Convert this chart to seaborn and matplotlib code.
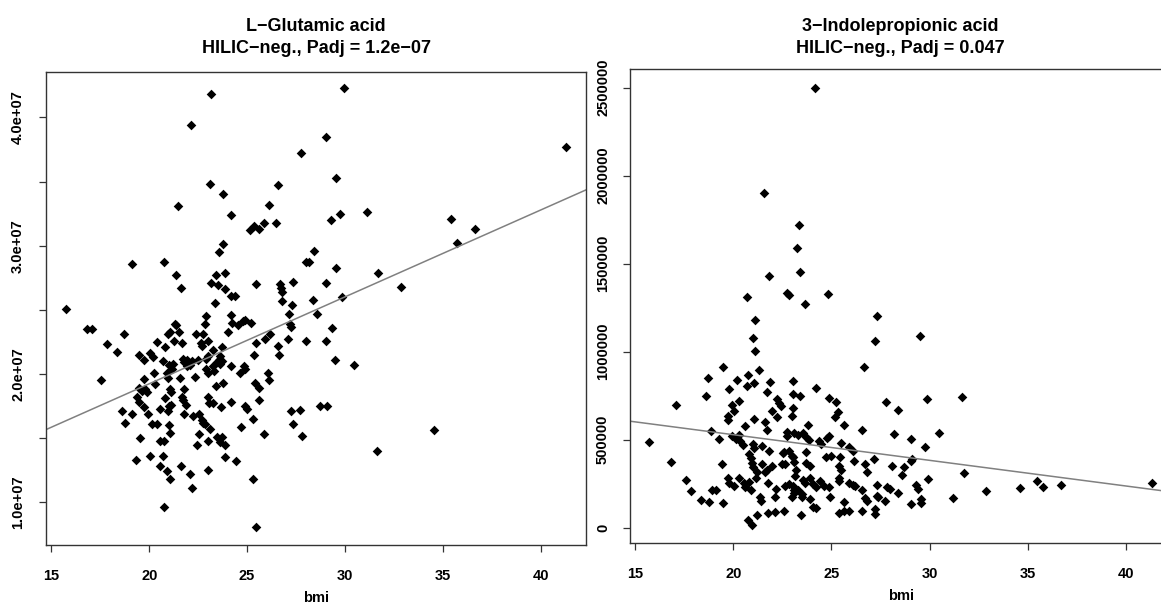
import numpy as np
import pandas as pd
import matplotlib
matplotlib.use("Agg")
import matplotlib.pyplot as plt
import seaborn as sns

sns.set_theme(style="white")
plt.rcParams['font.family'] = ['Liberation Sans', 'DejaVu Sans']
plt.rcParams['text.color'] = 'black'
plt.rcParams['xtick.color'] = 'black'
plt.rcParams['ytick.color'] = 'black'
plt.rcParams['axes.labelcolor'] = 'black'

# ---------------- Panel 1: L-Glutamic acid (values in units of 1e7) ----------------
glu_bmi = [
    23.14, 29.93, 22.14, 29.04, 41.30, 27.75, 29.53, 23.12, 26.57, 23.77, 21.46, 26.10,
    24.20, 29.75, 31.14, 29.30, 35.40, 25.14, 25.37, 25.60, 25.86, 26.50, 36.66, 35.75,
    23.77, 23.58, 28.40, 19.14, 20.75, 28.00, 28.18, 29.52, 21.35, 23.39, 23.86, 31.71,
    21.60, 23.13, 23.51, 25.44, 23.86, 26.66, 26.73, 26.78, 27.34, 29.03, 32.85, 24.17,
    24.38, 29.84, 28.36, 28.55, 29.36, 29.02, 29.51, 30.48, 28.71, 29.09, 31.64, 34.57,
    15.72, 23.36, 26.77, 27.31, 27.16, 16.80, 17.09, 18.71, 21.31, 21.35, 24.18, 24.23,
    24.52, 24.79, 24.89, 25.20, 22.88, 22.85, 24.01, 20.96, 21.08, 21.50, 22.39, 22.73,
    20.41, 21.24, 21.69, 22.64, 22.69, 23.02, 23.24, 23.70, 25.47, 25.93, 26.17, 26.56,
    27.19, 27.26, 27.11, 26.65, 25.37, 28.03, 17.85, 18.35, 19.47, 19.75, 20.05, 20.17,
    20.70, 20.79, 21.01, 21.16, 21.23, 21.74, 21.77, 21.93, 22.17, 22.10, 21.94, 22.51,
    22.90, 22.92, 22.98, 23.26, 23.29, 23.44, 23.56, 23.63, 23.73, 23.63, 24.18, 24.62,
    24.86, 24.89, 17.55, 20.22, 20.89, 20.94, 21.57, 19.75, 19.46, 19.61, 19.78, 19.87,
    20.27, 19.39, 19.46, 20.79, 21.08, 21.13, 21.77, 21.65, 21.74, 21.88, 22.35, 22.98,
    23.43, 23.79, 24.19, 25.40, 25.63, 25.61, 26.07, 26.10, 19.73, 18.60, 19.12, 19.92,
    20.55, 20.99, 20.96, 21.11, 21.76, 22.22, 22.52, 22.98, 23.03, 23.24, 23.68, 22.68,
    22.76, 22.86, 23.12, 20.16, 20.38, 18.74, 20.99, 21.08, 20.55, 20.75, 22.54, 22.98,
    22.46, 23.44, 23.72, 23.63, 23.89, 23.87, 24.43, 24.69, 24.88, 24.98, 25.32, 25.85,
    27.23, 27.69, 27.35, 27.82, 19.51, 20.05, 19.30, 20.70, 20.55, 20.89, 21.06, 21.64,
    22.08, 22.20, 23.02, 25.32, 20.75, 25.46,
]
glu_e7 = [
    4.18, 4.23, 3.94, 3.85, 3.77, 3.72, 3.53, 3.48, 3.47, 3.40, 3.31, 3.32,
    3.24, 3.25, 3.26, 3.20, 3.21, 3.12, 3.15, 3.13, 3.18, 3.18, 3.13, 3.02,
    3.01, 2.95, 2.96, 2.86, 2.87, 2.87, 2.87, 2.83, 2.77, 2.77, 2.79, 2.79,
    2.67, 2.71, 2.69, 2.70, 2.66, 2.70, 2.67, 2.64, 2.72, 2.71, 2.68, 2.61,
    2.61, 2.60, 2.58, 2.47, 2.36, 2.26, 2.11, 2.07, 1.75, 1.75, 1.40, 1.56,
    2.51, 2.55, 2.57, 2.54, 2.47, 2.35, 2.35, 2.31, 2.39, 2.38, 2.46, 2.40,
    2.38, 2.41, 2.42, 2.40, 2.45, 2.39, 2.33, 2.31, 2.33, 2.33, 2.31, 2.31,
    2.25, 2.26, 2.24, 2.24, 2.22, 2.26, 2.19, 2.21, 2.24, 2.27, 2.31, 2.22,
    2.39, 2.37, 2.27, 2.15, 2.15, 2.26, 2.23, 2.17, 2.15, 2.11, 2.16, 2.13,
    2.10, 2.21, 2.07, 2.04, 2.08, 2.12, 2.09, 2.11, 2.10, 2.07, 2.06, 2.11,
    2.12, 2.04, 2.14, 2.06, 2.02, 2.09, 2.11, 2.08, 2.10, 2.14, 2.06, 2.01,
    2.06, 2.04, 1.95, 2.01, 2.01, 1.97, 1.97, 1.96, 1.89, 1.87, 1.88, 1.86,
    1.92, 1.82, 1.78, 1.81, 1.88, 1.86, 1.88, 1.82, 1.80, 1.76, 1.98, 2.01,
    1.91, 1.93, 1.78, 1.93, 1.89, 1.80, 2.01, 1.95, 1.74, 1.71, 1.69, 1.69,
    1.73, 1.75, 1.71, 1.76, 1.69, 1.67, 1.69, 1.82, 1.77, 1.77, 1.74, 1.64,
    1.62, 1.61, 1.57, 1.61, 1.61, 1.62, 1.60, 1.54, 1.48, 1.48, 1.53, 1.48,
    1.45, 1.51, 1.51, 1.47, 1.45, 1.35, 1.32, 1.59, 1.75, 1.73, 1.65, 1.53,
    1.71, 1.72, 1.61, 1.52, 1.50, 1.36, 1.33, 1.36, 1.28, 1.24, 1.18, 1.28,
    1.22, 1.11, 1.25, 1.18, 0.96, 0.81,
]

# ---------------- Panel 2: 3-Indolepropionic acid (values in units of 1e6) ----------------
ipa_bmi = [
    24.15, 21.58, 23.36, 23.25, 23.38, 21.81, 22.74, 22.85, 24.83, 23.68, 20.71, 27.31,
    21.12, 27.22, 29.49, 21.01, 21.12, 26.67, 31.64, 29.88, 34.61, 35.45, 35.75, 36.68,
    41.33, 19.47, 18.71, 20.20, 20.75, 21.05, 20.68, 21.31, 21.85, 23.02, 24.22, 18.64,
    19.78, 21.70, 23.05, 23.41, 17.10, 20.29, 19.92, 20.05, 22.21, 22.33, 22.41, 23.04,
    21.96, 19.73, 19.76, 22.22, 23.00, 21.07, 20.58, 21.61, 21.70, 23.79, 15.72, 18.89,
    19.27, 19.95, 20.16, 20.29, 20.36, 20.48, 21.00, 21.08, 21.46, 22.72, 22.72, 23.12,
    23.29, 23.55, 23.72, 23.84, 24.35, 16.83, 19.44, 20.81, 20.93, 21.82, 22.53, 22.61,
    22.82, 22.97, 23.04, 23.70, 20.97, 21.03, 21.48, 21.60, 21.72, 21.95, 22.48, 22.66,
    23.08, 23.18, 23.14, 23.73, 23.92, 17.59, 17.84, 19.73, 19.78, 20.05, 20.32, 20.54,
    20.61, 20.80, 20.92, 21.15, 21.21, 21.76, 22.16, 22.63, 22.82, 23.04, 23.09, 23.12,
    23.28, 23.48, 23.57, 23.67, 23.92, 24.06, 24.23, 18.93, 19.10, 18.35, 18.76, 19.49,
    21.34, 21.39, 22.14, 22.97, 23.50, 23.92, 24.06, 24.23, 21.22, 21.77, 22.11, 22.58,
    23.45, 20.73, 20.97, 24.89, 25.23, 25.33, 25.19, 25.62, 27.78, 28.40, 26.57, 28.20,
    29.03, 30.49, 24.47, 24.89, 24.80, 25.48, 25.87, 26.11, 29.76, 24.70, 24.96, 25.45,
    26.13, 27.16, 29.08, 29.03, 25.37, 25.47, 26.71, 26.79, 28.08, 28.72, 31.75, 25.40,
    25.37, 24.43, 28.59, 29.93, 25.87, 26.09, 26.19, 24.60, 24.89, 26.55, 27.33, 27.33,
    27.82, 27.99, 28.40, 29.33, 29.39, 32.88, 31.20, 24.91, 26.72, 26.81, 27.35, 27.72,
    29.06, 29.54, 29.57, 25.64, 25.40, 25.64, 25.87, 26.57, 27.23, 27.23,
]
ipa_e6 = [
    2.500, 1.900, 1.720, 1.590, 1.450, 1.430, 1.335, 1.320, 1.330, 1.270, 1.310, 1.200,
    1.180, 1.060, 1.090, 1.080, 1.005, 0.913, 0.745, 0.730, 0.225, 0.265, 0.233, 0.243,
    0.252, 0.911, 0.852, 0.841, 0.867, 0.820, 0.807, 0.894, 0.830, 0.835, 0.795, 0.750,
    0.790, 0.769, 0.757, 0.750, 0.695, 0.722, 0.697, 0.665, 0.731, 0.706, 0.691, 0.678,
    0.661, 0.634, 0.614, 0.629, 0.636, 0.616, 0.578, 0.598, 0.553, 0.585, 0.487, 0.547,
    0.504, 0.521, 0.505, 0.524, 0.492, 0.470, 0.475, 0.454, 0.466, 0.545, 0.523, 0.536,
    0.526, 0.536, 0.517, 0.500, 0.490, 0.371, 0.364, 0.420, 0.394, 0.434, 0.426, 0.430,
    0.436, 0.405, 0.400, 0.430, 0.369, 0.347, 0.360, 0.318, 0.328, 0.352, 0.360, 0.364,
    0.375, 0.328, 0.294, 0.369, 0.352, 0.273, 0.210, 0.281, 0.254, 0.239, 0.284, 0.252,
    0.233, 0.262, 0.214, 0.281, 0.318, 0.252, 0.220, 0.239, 0.246, 0.239, 0.214, 0.195,
    0.214, 0.191, 0.269, 0.256, 0.281, 0.248, 0.229, 0.214, 0.212, 0.155, 0.146, 0.138,
    0.173, 0.150, 0.173, 0.173, 0.176, 0.161, 0.119, 0.110, 0.074, 0.085, 0.091, 0.095,
    0.072, 0.044, 0.013, 0.734, 0.712, 0.659, 0.627, 0.583, 0.712, 0.668, 0.555, 0.534,
    0.505, 0.536, 0.475, 0.521, 0.511, 0.479, 0.456, 0.436, 0.456, 0.400, 0.409, 0.403,
    0.379, 0.388, 0.390, 0.379, 0.352, 0.328, 0.360, 0.318, 0.350, 0.347, 0.312, 0.284,
    0.267, 0.267, 0.299, 0.275, 0.256, 0.242, 0.239, 0.235, 0.231, 0.214, 0.242, 0.182,
    0.233, 0.218, 0.195, 0.242, 0.218, 0.206, 0.168, 0.172, 0.170, 0.153, 0.176, 0.153,
    0.134, 0.163, 0.142, 0.146, 0.084, 0.096, 0.096, 0.096, 0.106, 0.078,
]

titles = ["L\u2212Glutamic acid\nHILIC\u2212neg., Padj = 1.2e\u221207",
          "3\u2212Indolepropionic acid\nHILIC\u2212neg., Padj = 0.047"]
x_ticks = [15, 20, 25, 30, 35, 40]
glu_yticks = [1.0e7, 1.5e7, 2.0e7, 2.5e7, 3.0e7, 3.5e7, 4.0e7]
glu_ylabels = ["1.0e+07", "", "2.0e+07", "", "3.0e+07", "", "4.0e+07"]
ipa_yticks = [0, 500000, 1000000, 1500000, 2000000, 2500000]
ipa_ylabels = ["0", "500000", "1000000", "1500000", "2000000", "2500000"]

df1 = pd.DataFrame({"bmi": glu_bmi, "value": np.array(glu_e7) * 1e7})
df2 = pd.DataFrame({"bmi": ipa_bmi, "value": np.array(ipa_e6) * 1e6})

fig = plt.figure(figsize=(11.61, 6.05), dpi=100)
fig.patch.set_facecolor("white")
W, H = 1161, 605
ax1 = fig.add_axes([46 / W, (H - 545) / H, 540.3 / W, 473 / H])
ax2 = fig.add_axes([629.5 / W, (H - 543) / H, 542.5 / W, 474 / H])

xlim = (14.72, 42.34)
ylims = [(0.667e7, 4.354e7), (-0.087e6, 2.606e6)]
yticks = [(glu_yticks, glu_ylabels), (ipa_yticks, ipa_ylabels)]
ypads = [10.0, 9.0]
tpads = [13.5, 11.5]

for ax, df, title, ylim, (yt, yl), ypad, tpad in [
        (ax1, df1, titles[0], ylims[0], yticks[0], ypads[0], tpads[0]),
        (ax2, df2, titles[1], ylims[1], yticks[1], ypads[1], tpads[1])]:
    ax.set_xlim(*xlim)
    ax.set_ylim(*ylim)
    sns.regplot(data=df, x="bmi", y="value", ax=ax, scatter=False, ci=None,
                truncate=False, line_kws=dict(color="#808080", lw=1.1))
    sns.scatterplot(data=df, x="bmi", y="value", ax=ax, marker="D", s=24,
                    color="black", linewidth=0, legend=False)
    ax.set_xlim(*xlim)
    ax.set_ylim(*ylim)
    ax.set_xticks(x_ticks)
    ax.set_xticklabels([str(t) for t in x_ticks], fontweight="bold")
    ax.set_yticks(yt)
    ax.set_yticklabels(yl, fontweight="bold", rotation=90, va="center")
    ax.set_xlabel("bmi", fontsize=10.5, fontweight="bold", labelpad=6)
    ax.set_ylabel("")
    ax.set_title(title, fontsize=13, fontweight="bold", linespacing=1.42, pad=tpad)
    for sp in ax.spines.values():
        sp.set_color("#333333")
        sp.set_linewidth(1.0)
    ax.tick_params(axis="both", which="major", bottom=True, left=True, direction="out",
                   length=5, width=0.9, color="#333333", labelsize=10.5,
                   labelcolor="black")
    ax.tick_params(axis="x", pad=12)
    ax.tick_params(axis="y", pad=ypad)

fig.savefig("out.png", dpi=100, facecolor="white")
